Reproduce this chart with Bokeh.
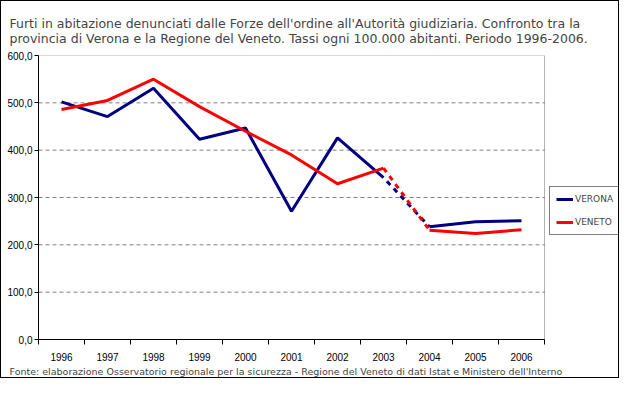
from bokeh.plotting import figure
from bokeh.models import (Range1d, FixedTicker, Title, Legend, LegendItem, LinearAxis,
                          BoxAnnotation, InlineStyleSheet)
from bokeh.embed import file_html
from bokeh.resources import INLINE

years = ["1996", "1997", "1998", "1999", "2000", "2001", "2002", "2003", "2004", "2005", "2006"]
verona = [502, 471, 531, 423, 447, 271, 426, 342, 238, 249, 251]
veneto = [486, 505, 550, 492, 440, 390, 329, 362, 231, 224, 232]
y_ticks = [0, 100, 200, 300, 400, 500, 600]
grid_vals = [100, 200, 300, 400, 500]

title_text = ("Furti in abitazione denunciati dalle Forze dell'ordine all'Autorità giudiziaria. Confronto tra la\n"
              "provincia di Verona e la Regione del Veneto. Tassi ogni 100.000 abitanti. Periodo 1996-2006.")
source = "Fonte: elaborazione Osservatorio regionale per la sicurezza - Regione del Veneto di dati Istat e Ministero dell'Interno"

FONT = "DejaVu Sans"
AFONT = "Liberation Sans"
BLUE = "#000080"
RED = "#FF0000"

n = len(years)
xs = [i + 0.5 for i in range(n)]
split = years.index("2003")

W, H = 619, 378
ML, MR, MT, MB = 37, 2, 54, 40
PLOT_W = 506                      # width of the chart box in px; the rest holds the legend
frame_w = W - ML - MR
x_end = n * frame_w / PLOT_W

p = figure(width=W, height=H, output_backend="svg", toolbar_location=None,
           x_range=Range1d(0, x_end), y_range=Range1d(0, 600),
           min_border_left=ML, min_border_right=MR, min_border_top=MT, min_border_bottom=MB,
           title_location=None, x_axis_type=None, y_axis_type=None)
p.stylesheets = [InlineStyleSheet(css=":host { border: 1px solid black; box-sizing: border-box; }")]
p.outline_line_color = None
p.background_fill_color = "white"
p.border_fill_color = "white"
p.xgrid.visible = False
p.ygrid.visible = False

# y axis
yax = LinearAxis(ticker=FixedTicker(ticks=y_ticks))
yax.major_label_overrides = {t: f"{t},0" for t in y_ticks}
yax.major_label_text_font = AFONT
yax.major_label_text_font_size = "10px"
yax.major_label_text_color = "black"
yax.major_tick_out = 4
yax.major_tick_in = 0
yax.minor_tick_line_color = None
yax.axis_line_color = "black"
yax.major_label_standoff = 2
p.add_layout(yax, "left")

# x axis: labels at category centers, ticks at category boundaries
xax = LinearAxis(ticker=FixedTicker(ticks=xs, minor_ticks=list(range(n + 1))), bounds=(0, n))
xax.major_label_overrides = {x: y for x, y in zip(xs, years)}
xax.major_label_text_font = AFONT
xax.major_label_text_font_size = "10px"
xax.major_label_text_color = "black"
xax.major_tick_line_color = None
xax.minor_tick_out = 5
xax.minor_tick_in = 0
xax.minor_tick_line_color = "black"
xax.axis_line_color = "black"
xax.major_label_standoff = 7
p.add_layout(xax, "below")

# dashed gridlines inside the chart box
p.multi_line(xs=[[0, n] for _ in grid_vals], ys=[[v, v] for v in grid_vals],
             line_color="#808080", line_dash="4 3", line_width=1)
# chart box
p.add_layout(BoxAnnotation(left=0, right=n, bottom=0, top=600, fill_alpha=0,
                           line_color="black", line_width=1))

# lines
vr1 = p.line(xs[:split + 1], verona[:split + 1], line_color=BLUE, line_width=3)
p.line(xs[split + 1:], verona[split + 1:], line_color=BLUE, line_width=3)
ve1 = p.line(xs[:split + 1], veneto[:split + 1], line_color=RED, line_width=3)
p.line(xs[split + 1:], veneto[split + 1:], line_color=RED, line_width=3)
p.line(xs[split:split + 2], verona[split:split + 2], line_color=BLUE, line_width=3,
       line_dash="5 5", line_dash_offset=5)
p.line(xs[split:split + 2], veneto[split:split + 2], line_color=RED, line_width=3,
       line_dash="5 5")

legend = Legend(items=[LegendItem(label="VERONA", renderers=[vr1]),
                       LegendItem(label="VENETO", renderers=[ve1])],
                location=(PLOT_W + 5, 104))
legend.border_line_color = "black"
legend.border_line_width = 1
legend.label_text_font = FONT
legend.label_text_font_size = "9px"
legend.glyph_width = 17
legend.glyph_height = 12
legend.label_standoff = 2
legend.spacing = 11
legend.padding = 6
legend.margin = 0
legend.background_fill_alpha = 1
p.add_layout(legend)

t = Title(text=title_text, align="left", offset=-29, text_font=FONT, text_font_size="12.5px",
          text_font_style="normal", text_line_height=1.0, standoff=20)
p.add_layout(t, "above")

src = Title(text=source, align="left", offset=-29, text_font=FONT, text_font_size="9.5px",
            text_font_style="normal", standoff=0)
p.add_layout(src, "below")

open("out.html", "w").write(file_html(p, INLINE))
